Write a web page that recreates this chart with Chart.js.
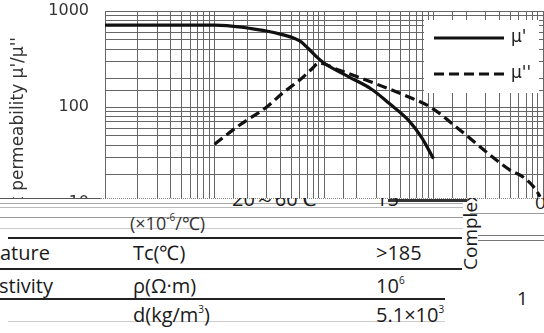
<!DOCTYPE html>
<html lang="en">
<head>
<meta charset="UTF-8">
<title>Permeability</title>
<script src="https://cdn.jsdelivr.net/npm/chart.js"></script>
<style>
    body { margin: 0; width: 544px; height: 333px; overflow: hidden; background: #fff; position: relative; }
    #wrap { position: absolute; left: 0; top: 0; width: 544px; height: 218px; }
    #tabella { position: absolute; left: 0; top: 198px; width: 544px; height: 135px; background: #fff; overflow: hidden;
               font-family: "Open Sans", sans-serif; color: #1a1a1a; }
    .t { position: absolute; font-size: 20px; line-height: 20px; white-space: nowrap; }
    .r { position: absolute; height: 0; }
    sup { font-size: 10px; vertical-align: 9px; line-height: 0; }
</style>
</head>
<body>
<div id="wrap"><canvas id="grafico"></canvas></div>

<div id="tabella">
    <!-- righe della tabella -->
    <div class="r" style="left:0;top:0;width:100px;border-top:1px solid #555"></div>
    <div class="r" style="left:100px;top:0;width:444px;border-top:1px dotted #888"></div>
    <div class="r" style="left:388px;top:1px;width:79px;border-top:3px solid #333"></div>
    <div class="r" style="left:0;top:5px;width:463px;border-top:1px solid #aaa"></div>
    <div class="r" style="left:0;top:9px;width:463px;border-top:1px solid #bbb"></div>
    <div class="r" style="left:0;top:19px;width:463px;border-top:1px solid #999"></div>
    <div class="r" style="left:0;top:30px;width:463px;border-top:1px solid #ccc"></div>
    <div class="r" style="left:8px;top:39px;width:454px;border-top:2px solid #222"></div>
    <div class="r" style="left:0;top:70px;width:462px;border-top:2px solid #222"></div>
    <div class="r" style="left:0;top:100px;width:445px;border-top:2px solid #222"></div>
    <div class="r" style="left:8px;top:123px;width:437px;border-top:1px solid #ccc"></div>
    <div class="r" style="left:470px;top:15px;width:74px;border-top:1px solid #999"></div>
    <div class="r" style="left:478px;top:37px;width:66px;border-top:1px solid #777"></div>
    <div class="r" style="left:478px;top:42px;width:66px;border-top:1px solid #777"></div>

    <div class="t" style="left:232px;top:-9px">20～60℃</div>
    <div class="t" style="left:376px;top:-9px">15</div>
    <div class="t" style="left:130px;top:15px;font-size:18px;color:#333">(×10<sup>-6</sup>/℃)</div>

    <div class="t" style="left:0;top:45px">ature</div>
    <div class="t" style="left:133px;top:45px">Tc(℃)</div>
    <div class="t" style="left:376px;top:45px">&gt;185</div>

    <div class="t" style="left:-1px;top:78px">stivity</div>
    <div class="t" style="left:133px;top:78px">ρ(Ω·m)</div>
    <div class="t" style="left:376px;top:78px">10<sup>6</sup></div>

    <div class="t" style="left:133px;top:107px">d(kg/m<sup>3</sup>)</div>
    <div class="t" style="left:376px;top:107px">5.1×10<sup>3</sup></div>

    <div class="t" style="left:460px;top:72px;font-size:19px;transform:rotate(-90deg);transform-origin:0 0">Complex</div>
    <div class="t" style="left:517px;top:90px;font-size:19px">1</div>
    <div class="t" style="left:535px;top:-6px;font-size:19px">0</div>
</div>

<script>
    // valori (frequenza in MHz)
    const freqReale = [0.01, 0.1, 0.13, 0.2, 0.33, 0.6, 0.71, 0.86, 1.0, 1.7, 2.7, 3.9, 5.9, 7.7, 10];
    const muReale = [714, 714, 705, 665, 604, 487, 412, 332, 287, 205, 154, 110, 73, 49, 29];

    const freqImm = [0.1, 0.17, 0.3, 0.42, 0.6, 0.79, 0.89, 1.36, 2.7, 5.4, 9.6, 16.1, 32.9, 50, 65.7, 86.3, 94];
    const muImm = [41, 65, 100, 140, 191, 255, 287, 243, 182, 133, 98, 62, 31.6, 22, 18.7, 13.7, 11.6];

    const etichetteY = [10, 100, 1000];
    const nomiSerie = ["μ'", "μ''"];
    const titoloY = "Complex permeability μ'/μ''";

    const coloreCurve = "#111";
    const coloreGriglia = "#666";
    const tratteggio = [10, 5];

    // titolo asse y disegnato a mano (non centrato sull'area del grafico)
    const titoloPlugin = {
        id: 'titoloY',
        afterDraw(chart) {
            const ctx = chart.ctx;
            ctx.save();
            ctx.translate(23, 37);
            ctx.rotate(-Math.PI / 2);
            ctx.font = '17px "DejaVu Sans"';
            ctx.fillStyle = '#333';
            ctx.textAlign = 'right';
            ctx.textBaseline = 'alphabetic';
            ctx.fillText(titoloY, 0, 0);
            ctx.restore();
        }
    };

    // legenda dentro il grafico, in alto a destra
    const legendaPlugin = {
        id: 'legendaBox',
        afterDraw(chart) {
            const ctx = chart.ctx;
            const a = chart.chartArea;
            const x0 = a.right - 119, y0 = a.top + 9;
            ctx.save();
            ctx.fillStyle = '#fff';
            ctx.fillRect(x0, y0, 115, 73);
            chart.data.datasets.forEach((ds, i) => {
                const y = y0 + 18 + i * 36;
                ctx.beginPath();
                ctx.setLineDash(ds.borderDash || []);
                ctx.lineWidth = 3.2;
                ctx.strokeStyle = ds.borderColor;
                ctx.moveTo(x0 + 10, y);
                ctx.lineTo(x0 + 80, y);
                ctx.stroke();
                ctx.setLineDash([]);
                ctx.font = '17px "DejaVu Sans"';
                ctx.fillStyle = '#222';
                ctx.textBaseline = 'middle';
                ctx.fillText(ds.label, x0 + 87, y);
            });
            ctx.restore();
        }
    };

    const ctx = document.getElementById("grafico").getContext("2d");
    new Chart(ctx, {
        type: "line",
        data: {
            datasets: [{
                label: nomiSerie[0],
                data: freqReale.map((f, i) => ({ x: f, y: muReale[i] })),
                borderColor: coloreCurve,
                borderWidth: 3.2,
                pointRadius: 0,
                cubicInterpolationMode: 'monotone'
            }, {
                label: nomiSerie[1],
                data: freqImm.map((f, i) => ({ x: f, y: muImm[i] })),
                borderColor: coloreCurve,
                borderWidth: 3.2,
                borderDash: tratteggio,
                pointRadius: 0,
                cubicInterpolationMode: 'monotone'
            }]
        },
        options: {
            responsive: true,
            maintainAspectRatio: false,
            animation: false,
            layout: { padding: { top: 11, right: 1, bottom: 15, left: 0 } },
            plugins: {
                legend: { display: false },
                tooltip: { enabled: false }
            },
            scales: {
                x: {
                    type: 'logarithmic',
                    min: 0.01,
                    max: 100,
                    ticks: { display: false, autoSkip: false },
                    grid: { color: coloreGriglia, lineWidth: 1, drawTicks: false },
                    border: { color: coloreGriglia },
                    afterFit: s => { s.height = 0; s.paddingLeft = 0; s.paddingRight = 0; }
                },
                y: {
                    type: 'logarithmic',
                    min: 10,
                    max: 1000,
                    ticks: {
                        autoSkip: false,
                        padding: 16,
                        color: '#333',
                        font: { family: 'DejaVu Sans', size: 16 },
                        callback: v => etichetteY.includes(v) ? String(v) : ''
                    },
                    grid: { color: coloreGriglia, lineWidth: 1, drawTicks: false },
                    border: { color: coloreGriglia },
                    afterFit: s => { s.width = 105; s.paddingTop = 0; s.paddingBottom = 0; }
                }
            }
        },
        plugins: [titoloPlugin, legendaPlugin]
    });
</script>
</body>
</html>
